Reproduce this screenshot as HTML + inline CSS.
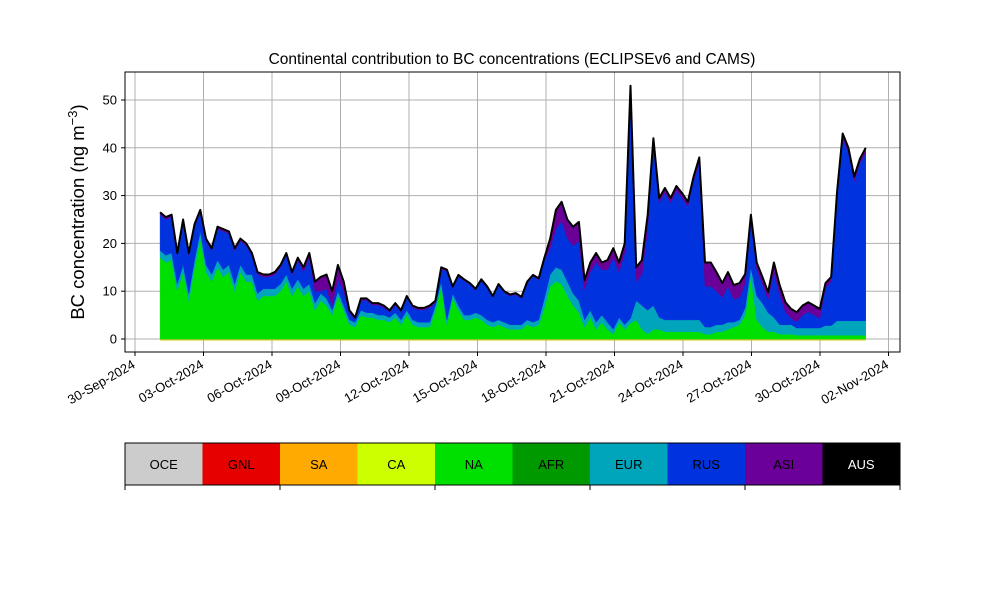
<!DOCTYPE html>
<html><head><meta charset="utf-8"><style>
body{margin:0;background:#fff;}
svg{display:block;font-family:"Liberation Sans","DejaVu Sans",sans-serif;}
</style></head><body>
<svg id="chart" width="1000" height="600" viewBox="0 0 1000 600" xmlns="http://www.w3.org/2000/svg">
<text x="512" y="64" text-anchor="middle" font-size="15.5">Continental contribution to BC concentrations (ECLIPSEv6 and CAMS)</text>
<text transform="translate(84,212) rotate(-90)" text-anchor="middle" font-size="18.5">BC concentration (ng m<tspan baseline-shift="super" font-size="13">−3</tspan>)</text>
<g id="grid"></g>
<g id="areas"></g>
<g id="axes"></g>
<g id="legend"></g>
</svg>
<script>
const totalVals=[26.5,25.5,26,18,25,18,24,27,21,19,23.5,23,22.5,19,21,20,18,14,13.5,13.5,14,15.5,18,14,17,15,18,12,13,13.5,10,15.5,12,6,4.5,8.5,8.5,7.5,7.5,7,6,7.5,6,9,7,6.5,6.5,7,8,15,14.5,11,13.4,12.5,11.7,10.5,12.5,11,9,11.5,10,9.3,9.6,8.8,12,13.4,12.7,17,21,27,28.7,25,23.5,24.5,12.3,16,18,16,16.5,19,16,20,53,15,16.5,26,42,29.5,31.6,29.5,32,30.5,28.7,34,38,16,16,14,11.7,14,11.3,11.7,13.6,26,16,13,9.8,16,11.3,7.7,6.3,5.6,7,7.7,7,6.3,11.7,13,30.7,43,40,34,37.7,40];
const naVals=[17,16,16.5,10,14,8,15,21,14,12,15,13,14,10,14,12,12,8,9,9,9,10,12,9,11,9,10,6,8,7,5,9,6,3,2.5,5,4.5,4.5,4,4,3.5,4.5,3,5,3,2.5,2.5,2.5,6,11,3,8.5,6,4,4,4.5,4,3,2.5,3,2.5,2,2,2,3,2.5,3,6.5,11,12,11.5,9,7,5.5,2.5,4.5,2,3.5,2,1,3.5,2,3.3,4,2,1,2,2,1.5,1.5,1.5,1.5,1.5,1.5,1.5,1,1,1.5,1.5,2,2.5,3,5,13,4,2.5,1.5,1.5,1,1,1,.8,.8,.8,.8,.8,.8,.8,.8,.8,.8,.8,.8,.8];
const eurVals=[1.5,1.5,1.5,1.5,1.5,1.5,1.5,1.5,1.5,1.5,1.5,1.5,1.5,1.5,1.5,1.5,1.5,1.5,1.5,1.5,1.5,1.5,1.5,1.5,1.5,1.5,1.5,1.5,1.5,1.5,1,1,1,1,1,1,1,1,1,1,1,1,1,1,1,1,1,1,1,1,1,1,1,1,1,1,1,1,1,1,1,1,1,1,1,1,1,2,2.5,3,3,3,2.5,2.5,1.5,1.5,1.5,1.5,1.5,1,1,1,1,4,5,5,5,2.5,2.5,2.5,2.5,2.5,2.5,2.5,2.5,1.5,1.5,1.5,1.5,1.5,1,1,1.5,2,5,5,4,3,2,2,2,1.5,1.5,1.5,1.5,1.5,2,2,3,3,3,3,3,3];
const asiVals=[.5,.5,.5,.5,.5,.5,.5,.5,.5,.5,.5,.5,.5,.5,.5,.5,.5,.5,.5,.5,.5,.5,.5,.5,.5,1,1,2,3,3,3,3,2,.5,.4,.4,.4,.4,.4,.4,.4,.4,.4,.4,.4,.4,.4,.4,.4,.4,.3,.3,.3,.3,.3,.3,.3,.3,.3,.3,.3,.3,.3,.3,.3,.3,.3,.5,2,4,4,4,4,4,2,2,2,1.5,2,2,2,2,1,3,3,3,1,1,1,1,1,1,1,1,1,5,5,4,3,3,3,3,2,1.5,1.5,1.5,1.5,2,2,2,2,2,2,2,2,2,1,1,1,1,1,1,1,1];
const rusVals=totalVals.map((t,i)=>Math.max(0,t-naVals[i]-eurVals[i]-asiVals[i]));
const xTickLabels=["30-Sep-2024","03-Oct-2024","06-Oct-2024","09-Oct-2024","12-Oct-2024","15-Oct-2024","18-Oct-2024","21-Oct-2024","24-Oct-2024","27-Oct-2024","30-Oct-2024","02-Nov-2024"];
const yTickVals=[0,10,20,30,40,50];
const legendNames=["OCE","GNL","SA","CA","NA","AFR","EUR","RUS","ASI","AUS"];
const legendColors=["#cccccc","#e60000","#ffaa00","#ccff00","#00e000","#009a00","#00a5bc","#0033dd","#6a0097","#000000"];

const NS="http://www.w3.org/2000/svg";
const L=125,R=900,T=72,B=352;
const dayStart=1.1,dayEnd=32.0;
function xDay(d){return 135+d*22.833;}
function xIdx(i){return xDay(dayStart+i*(dayEnd-dayStart)/(totalVals.length-1));}
function yv(v){return 339-v*4.78;}
function mk(tag,attrs,parent){const e=document.createElementNS(NS,tag);for(const k in attrs)e.setAttribute(k,attrs[k]);parent.appendChild(e);return e;}
const grid=document.getElementById('grid'),areas=document.getElementById('areas'),axes=document.getElementById('axes'),legend=document.getElementById('legend');

xTickLabels.forEach((lab,i)=>{const x=xDay(i*3);
 const g=mk('line',{x1:x,x2:x,y1:T,y2:B,stroke:'#b0b0b0','stroke-width':1},grid);
 
 const t=mk('line',{x1:x,x2:x,y1:B,y2:B+4,stroke:'#000'},axes);
 
 const ax=x+1,ay=B+15;
 const tx=mk('text',{x:ax,y:ay,'text-anchor':'end','font-size':13,transform:`rotate(-30 ${ax} ${ay})`},axes);
 tx.textContent=lab;
 
});
yTickVals.forEach(v=>{const y=yv(v);
 const g=mk('line',{x1:L,x2:R,y1:y,y2:y,stroke:'#b0b0b0','stroke-width':1},grid);
 
 const t=mk('line',{x1:L-4,x2:L,y1:y,y2:y,stroke:'#000'},axes);
 
 const tx=mk('text',{x:L-8,y:y+4.5,'text-anchor':'end','font-size':13},axes);
 tx.textContent=v;
 
});
const frame=mk('rect',{x:L,y:T,width:R-L,height:B-T,fill:'none',stroke:'#000','stroke-width':1},axes);


const series=[["na",naVals,"#00e000"],["eur",eurVals,"#00a5bc"],["rus",rusVals,"#0033dd"],["asi",asiVals,"#6a0097"]];
let base=totalVals.map(()=>0);
series.forEach(([nm,vals,col])=>{
 const top=base.map((b,i)=>b+vals[i]);
 let d='';
 top.forEach((v,i)=>{d+=(i?'L':'M')+xIdx(i).toFixed(1)+','+yv(v).toFixed(1);});
 for(let i=base.length-1;i>=0;i--)d+='L'+xIdx(i).toFixed(1)+','+yv(base[i]).toFixed(1);
 const p=mk('path',{d:d+'Z',fill:col,stroke:col,'stroke-width':0.5},areas);
 
 base=top;
});
let dl='';totalVals.forEach((v,i)=>{dl+=(i?'L':'M')+xIdx(i).toFixed(1)+','+yv(v).toFixed(1);});
const aus=mk('path',{d:dl,fill:'none',stroke:'#000','stroke-width':2,'stroke-linejoin':'round'},areas);

const bl=mk('line',{x1:xIdx(0),x2:xIdx(totalVals.length-1),y1:yv(0)+1,y2:yv(0)+1,stroke:'#c8c800','stroke-width':1},areas);


const bw=(R-L)/legendNames.length;
legendNames.forEach((n,i)=>{
 const r=mk('rect',{x:L+i*bw,y:443,width:bw,height:42,fill:legendColors[i]},legend);
 
 const t=mk('text',{x:L+i*bw+bw/2,y:469,'text-anchor':'middle','font-size':13,fill:n==='AUS'?'#fff':'#000'},legend);
 t.textContent=n;
 
});
const lf=mk('rect',{x:L,y:443,width:R-L,height:42,fill:'none',stroke:'#000','stroke-width':1},legend);

for(let k=0;k<=5;k++){const x=L+k*bw*2;
 const t=mk('line',{x1:x,x2:x,y1:485,y2:490,stroke:'#000'},legend);
 
}
</script>
</body></html>
